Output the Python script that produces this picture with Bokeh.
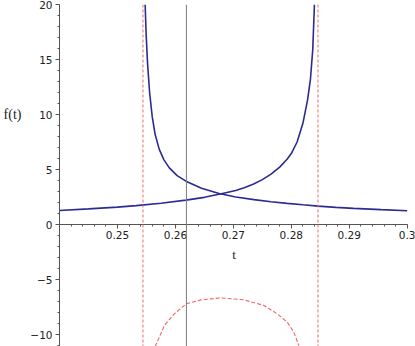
from bokeh.plotting import figure
from bokeh.models import LinearAxis, FixedTicker, Span, Label, Range1d
from bokeh.embed import file_html
from bokeh.resources import INLINE

# ---- data ----
# decreasing branch (asymptote on the left)
a_t = [0.25478, 0.25495, 0.25520, 0.25555, 0.25600, 0.25650, 0.25720, 0.25800,
       0.25895, 0.26030, 0.26182, 0.26450, 0.26754, 0.27041, 0.27356, 0.27650,
       0.27930, 0.28200, 0.28462, 0.28770, 0.29074, 0.29550, 0.30000]
a_f = [20.0, 17.3, 14.6, 12.0, 9.8, 8.2, 6.85, 5.9,
       5.15, 4.45, 3.94, 3.30, 2.82, 2.50, 2.26, 2.07,
       1.92, 1.79, 1.67, 1.56, 1.47, 1.35, 1.25]
# increasing branch (asymptote on the right)
b_t = [0.2400, 0.2450, 0.2500, 0.25323, 0.2575, 0.26182, 0.2650, 0.26793,
       0.27041, 0.2720, 0.2735, 0.2750, 0.2765, 0.2780, 0.2793, 0.2800,
       0.2810, 0.2820, 0.2828, 0.2833, 0.2837, 0.28399]
b_f = [1.27, 1.42, 1.58, 1.72, 1.93, 2.22, 2.47, 2.79,
       3.09, 3.36, 3.68, 4.08, 4.58, 5.22, 5.95, 6.45,
       7.5, 9.2, 11.3, 13.2, 15.9, 20.0]
# dashed red arc at the bottom
c_t = [0.2565, 0.25723, 0.2581, 0.25981, 0.26187, 0.2644, 0.26784, 0.27184,
       0.27528, 0.27758, 0.2793, 0.28043, 0.2813]
c_f = [-11.1, -10.24, -9.18, -8.12, -7.21, -6.85, -6.67, -6.85,
       -7.36, -8.12, -8.88, -9.79, -11.0]
asymptotes = [0.2544, 0.2846]
marker_t = [0.2619]

x_ticks = [0.25, 0.26, 0.27, 0.28, 0.29, 0.3]
x_tick_labels = ["0.25", "0.26", "0.27", "0.28", "0.29", "0.3"]
y_ticks = [-10, -5, 0, 5, 10, 15, 20]
y_tick_labels = ["\u221210", "\u22125", "0", "5", "10", "15", "20"]
x_label = "t"
y_label = "f(t)"
y_label_at = 10

BLUE = "#2b2b95"
RED = "#f06464"
AXIS = "#555555"
FONT = "DejaVu Sans"

p = figure(width=415, height=346, x_range=Range1d(0.24, 0.30143),
           y_range=Range1d(-11.09, 20), output_backend="svg",
           toolbar_location=None, x_axis_type=None,
           min_border_left=59, min_border_right=0, min_border_top=4,
           min_border_bottom=0)
p.grid.grid_line_color = None
p.outline_line_color = None
p.background_fill_color = "white"
p.border_fill_color = "white"

# x axis crossing at f = 0
x_minor = [round(0.24 + i * 0.002, 4) for i in range(31)]
xaxis = LinearAxis(fixed_location=0, bounds=(0.24, 0.3),
                   ticker=FixedTicker(ticks=x_ticks, minor_ticks=x_minor))
xaxis.major_label_overrides = dict(zip(x_ticks, x_tick_labels))
p.add_layout(xaxis, "below")

yaxis = p.yaxis[0]
yaxis.ticker = FixedTicker(ticks=y_ticks, minor_ticks=list(range(-11, 21)))
yaxis.major_label_overrides = dict(zip(y_ticks, y_tick_labels))

for ax in (xaxis, yaxis):
    ax.axis_line_color = AXIS
    ax.major_tick_line_color = AXIS
    ax.minor_tick_line_color = AXIS
    ax.major_tick_in = 0
    ax.major_tick_out = 4
    ax.minor_tick_in = 0
    ax.minor_tick_out = 2
    ax.major_label_text_font = FONT
    ax.major_label_text_font_size = "10.5px"
    ax.major_label_text_color = "#222222"
xaxis.major_label_standoff = 2
yaxis.major_label_standoff = 3

# y-axis title "f(t)" drawn level with the 10 tick, outside the frame
ytitle = LinearAxis(ticker=FixedTicker(ticks=[y_label_at], minor_ticks=[]),
                    major_label_overrides={y_label_at: y_label},
                    axis_line_color=None, major_tick_line_color=None,
                    minor_tick_line_color=None, major_tick_in=0,
                    major_tick_out=0, minor_tick_in=0, minor_tick_out=0,
                    major_label_standoff=6,
                    major_label_text_font="Liberation Serif",
                    major_label_text_font_size="14px",
                    major_label_text_color="#222222")
p.add_layout(ytitle, "left")

for loc in asymptotes:
    p.add_layout(Span(location=loc, dimension="height", line_color=RED,
                      line_dash="3 2", line_width=1.2, line_alpha=0.8))
for loc in marker_t:
    p.add_layout(Span(location=loc, dimension="height", line_color="#7a7a7a",
                      line_width=1))

p.line(a_t, a_f, line_color=BLUE, line_width=1.6)
p.line(b_t, b_f, line_color=BLUE, line_width=1.6)
p.line(c_t, c_f, line_color=RED, line_width=1.1, line_dash="4 2")

p.add_layout(Label(x=0.2701, y=-2.7, text=x_label, text_font="Liberation Serif",
                   text_font_size="13px", text_baseline="middle",
                   text_align="center", text_color="#222222"))

html = file_html(p, INLINE)
html = html.replace("</head>", "<style>body{margin:0;}</style></head>", 1)
open("out.html", "w").write(html)
